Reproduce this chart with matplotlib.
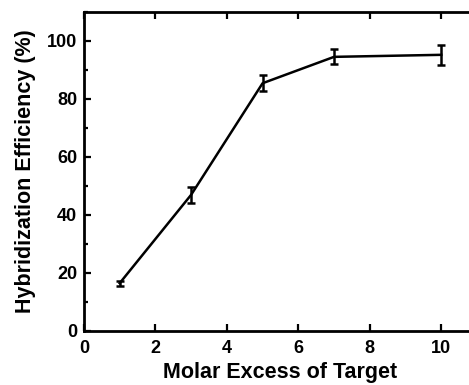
import matplotlib
matplotlib.use("Agg")
from matplotlib import pyplot as plt
from matplotlib.ticker import MultipleLocator

plt.rcParams['font.family'] = ['Liberation Sans', 'DejaVu Sans']
plt.rcParams['font.weight'] = 'bold'

# molar excess vs hybridization efficiency
molar_excess = [1, 3, 5, 7, 10]
efficiency = [16.4, 46.9, 85.4, 94.5, 95.2]
efficiency_err = [0.8, 2.7, 2.7, 2.6, 3.4]

fig = plt.figure(figsize=(4.69, 3.85), dpi=100)
ax = fig.add_axes([0.179, 0.141, 0.838, 0.828])

ax.errorbar(molar_excess, efficiency, yerr=efficiency_err, color='black',
            linewidth=1.8, elinewidth=1.8, capsize=3.2, capthick=1.8)

ax.set_xlim(0, 11)
ax.set_ylim(0, 110)
ax.xaxis.set_major_locator(MultipleLocator(2))
ax.yaxis.set_major_locator(MultipleLocator(20))
ax.yaxis.set_minor_locator(MultipleLocator(10))

for s in ax.spines.values():
    s.set_linewidth(2.0)

ax.tick_params(which='both', direction='in', top=True, right=True, width=1.6)
ax.tick_params(which='major', length=5, labelsize=13)
ax.tick_params(which='minor', length=3)
ax.tick_params(axis='x', which='major', pad=7)
ax.tick_params(axis='y', which='major', pad=5)
for lab in ax.get_xticklabels() + ax.get_yticklabels():
    lab.set_fontweight('bold')

ax.set_xlabel('Molar Excess of Target', fontsize=15.5, fontweight='bold', labelpad=3.5)
ax.set_ylabel('Hybridization Efficiency (%)', fontsize=15.5, fontweight='bold', labelpad=8)

fig.savefig('out.png', dpi=100)
